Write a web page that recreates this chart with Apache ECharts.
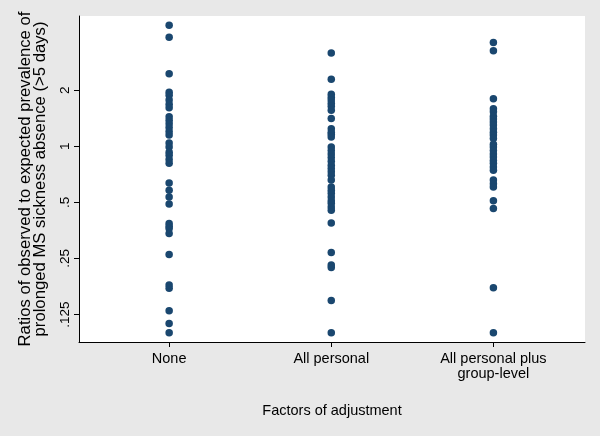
<!DOCTYPE html>
<html>
<head>
<meta charset="utf-8">
<script src="https://cdn.jsdelivr.net/npm/echarts@6/dist/echarts.min.js"></script>
<style>
html,body{margin:0;padding:0;background:#e8e8e8;}
#chart{width:600px;height:436px;}
</style>
</head>
<body>
<div id="chart"></div>
<script>
// Categories (factors of adjustment)
var categories = ['None', 'All personal', 'All personal plus\ngroup-level'];

// Observed/expected ratios per category
var noneValues = [4.46, 3.84, 2.45, 1.95, 1.88, 1.77, 1.68, 1.61, 1.44, 1.38, 1.32, 1.26, 1.20, 1.15,
  1.04, 0.99, 0.93, 0.895, 0.85, 0.81, 0.635, 0.58, 0.535, 0.49, 0.385, 0.372, 0.362, 0.34,
  0.263, 0.18, 0.173, 0.131, 0.112, 0.100];
var personalValues = [3.17, 2.29, 1.90, 1.83, 1.77, 1.70, 1.64, 1.56, 1.41, 1.24, 1.19, 1.16, 1.12,
  0.99, 0.95, 0.91, 0.87, 0.83, 0.79, 0.76, 0.73, 0.70, 0.66, 0.605, 0.58, 0.56, 0.535, 0.51,
  0.494, 0.472, 0.453, 0.387, 0.269, 0.231, 0.224, 0.149, 0.100];
var groupValues = [3.60, 3.25, 1.80, 1.59, 1.53, 1.45, 1.40, 1.35, 1.30, 1.24, 1.19, 1.15, 1.10,
  1.025, 0.99, 0.95, 0.91, 0.876, 0.84, 0.81, 0.774, 0.743, 0.66, 0.63, 0.605, 0.51, 0.463,
  0.174, 0.100];

// Y tick labels
var yTicks = [0.125, 0.25, 0.5, 1, 2];
var xTicks = [0, 1, 2];

var yTitle = 'Ratios of observed to expected prevalence of\nprolonged MS sickness absence (>5 days)';
var xTitle = 'Factors of adjustment';

function pairs(idx, arr) {
  return arr.map(function (v) { return [idx, v]; });
}

var FONT = '"Liberation Sans", Arial, Helvetica, sans-serif';
var chart = echarts.init(document.getElementById('chart'), null, {renderer: 'canvas'});
chart.setOption({
  backgroundColor: '#e8e8e8',
  animation: false,
  grid: {
    left: 79, right: 15, top: 16, bottom: 94,
    show: true, backgroundColor: '#ffffff', borderWidth: 0
  },
  xAxis: {
    type: 'value',
    min: -0.556, max: 2.565,
    splitLine: {show: false},
    axisLine: {show: true, onZero: false, lineStyle: {color: '#000', width: 1}},
    axisTick: {show: true, length: 5, inside: false, customValues: xTicks, lineStyle: {color: '#000'}},
    axisLabel: {
      customValues: xTicks,
      color: '#000', fontFamily: FONT, fontSize: 14.5, lineHeight: 15, margin: 9,
      formatter: function (v) { return categories[Math.round(v)] || ''; }
    },
    name: xTitle,
    nameLocation: 'middle',
    nameGap: 61,
    nameTextStyle: {color: '#000', fontFamily: FONT, fontSize: 14.5}
  },
  yAxis: {
    type: 'log',
    logBase: 2,
    min: 0.0891, max: 5.0,
    splitLine: {show: false},
    axisLine: {show: true, onZero: false, lineStyle: {color: '#000', width: 1}},
    axisTick: {show: true, length: 5, inside: false, customValues: yTicks, lineStyle: {color: '#000'}},
    axisLabel: {
      customValues: yTicks,
      rotate: 90,
      color: '#000', fontFamily: FONT, fontSize: 13.5, margin: 7,
      formatter: function (v) { return String(v).replace(/^0\./, '.'); }
    },
    name: yTitle,
    nameLocation: 'middle',
    nameRotate: 90,
    nameGap: 31,
    nameTextStyle: {color: '#000', fontFamily: FONT, fontSize: 16.7, lineHeight: 15}
  },
  series: [
    {type: 'scatter', data: pairs(0, noneValues), symbol: 'circle', symbolSize: 7.5, itemStyle: {color: '#1a476f', opacity: 1}},
    {type: 'scatter', data: pairs(1, personalValues), symbol: 'circle', symbolSize: 7.5, itemStyle: {color: '#1a476f', opacity: 1}},
    {type: 'scatter', data: pairs(2, groupValues), symbol: 'circle', symbolSize: 7.5, itemStyle: {color: '#1a476f', opacity: 1}}
  ]
});
</script>
</body>
</html>
